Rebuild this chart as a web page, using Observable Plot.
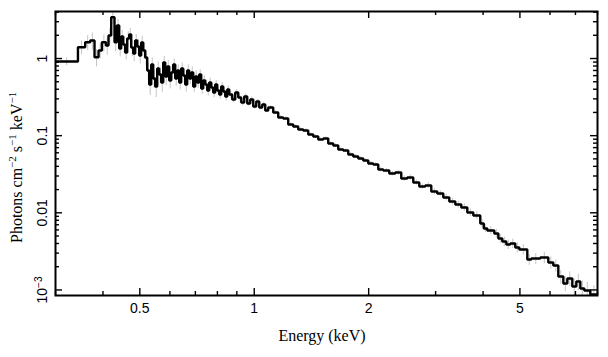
<!DOCTYPE html>
<html><head><meta charset="utf-8">
<script src="https://cdn.jsdelivr.net/npm/d3@7"></script>
<script src="https://cdn.jsdelivr.net/npm/@observablehq/plot@0.6"></script>
<style>
body{margin:0;background:#fff}
#chart{width:608px;height:357px}
</style>
</head><body><div id="chart"></div>
<script>
// Bin lower edges (keV)
const binLo = [
  0.3, 0.3437, 0.3591, 0.3702, 0.3800, 0.3894, 0.3974, 0.4071, 0.4136, 0.4204, 0.4289, 0.4352,
  0.4413, 0.4467, 0.4521, 0.4576, 0.4632, 0.4688, 0.4746, 0.4804, 0.4862, 0.4922, 0.4982, 0.5042, 0.5104, 0.5166,
  0.5229, 0.5293, 0.5358, 0.5423, 0.5489, 0.5556, 0.5623, 0.5692, 0.5761, 0.5832, 0.5903, 0.5975, 0.6047, 0.6121,
  0.6196, 0.6271, 0.6348, 0.6425, 0.6504, 0.6583, 0.6663, 0.6744, 0.6827, 0.6910, 0.6994, 0.7080, 0.7166, 0.7253,
  0.7342, 0.7431, 0.7522, 0.7613, 0.7706, 0.7800, 0.7895, 0.7991, 0.8089, 0.8187, 0.8288, 0.8389, 0.8491, 0.8594,
  0.8752, 0.8913, 0.9076, 0.9243, 0.9412, 0.9585, 0.9761, 0.9940, 1.0122, 1.0308, 1.0497, 1.0689, 1.0885,
  1.1220, 1.1565, 1.1920, 1.2287, 1.2664, 1.3054, 1.3455, 1.3869, 1.4297, 1.4736, 1.5191, 1.5656, 1.6140, 1.6636, 1.7146, 1.7675, 1.8219, 1.8780, 1.9357, 1.9953, 2.0568, 2.1199,
  2.1851, 2.2661, 2.3499, 2.4367, 2.5270, 2.6205, 2.7176, 2.8184, 2.9227, 3.0310, 3.1433, 3.2598, 3.3803, 3.5053, 3.6352, 3.7699,
  3.9326, 4.0170, 4.1040, 4.2816, 4.3880, 4.4934, 4.6050, 4.7170, 4.8616, 4.9820, 5.2290, 5.3570, 5.6570, 5.9386, 6.1205, 6.3096, 6.5046, 6.6636, 6.8673, 7.0370, 7.2093, 7.3860, 7.6590
];
const binHiLast = 8.0;
// Unfolded flux (photons cm^-2 s^-1 keV^-1)
const flux = [
  0.915, 1.401, 1.627, 1.712, 1.040, 1.270, 1.627, 1.474, 1.987, 3.43, 1.627, 2.677,
  1.348, 1.929, 1.519, 1.196, 1.817, 2.048, 1.389, 1.161, 1.712, 1.431, 1.094, 1.613, 1.270, 1.030,
  0.6988, 0.4600, 0.8360, 0.5503, 0.4333, 0.7418, 0.6201, 0.4883, 0.8874, 0.5842, 0.7875, 0.5184, 0.6583, 0.8360,
  0.5503, 0.6988, 0.4883, 0.7418, 0.6019, 0.4600, 0.6988, 0.5503, 0.6583, 0.4333, 0.5842, 0.4883, 0.6201, 0.4082,
  0.5184, 0.4600, 0.3845, 0.4883, 0.4206, 0.3622, 0.4600, 0.3845, 0.3412, 0.4333, 0.3732, 0.3215, 0.3962, 0.3412,
  0.2939, 0.3622, 0.3120, 0.2687, 0.3215, 0.2608, 0.2939, 0.2385, 0.2769, 0.2315, 0.2532, 0.2116, 0.2315,
  0.1995, 0.1719, 0.1668, 0.1395, 0.1314, 0.1201, 0.1166, 0.1035, 0.0975, 0.0891, 0.0918, 0.0791, 0.0745, 0.0661, 0.0642, 0.0570, 0.0537, 0.0505, 0.0476, 0.0436, 0.0423, 0.0364,
  0.03535, 0.03231, 0.03329, 0.02783, 0.02868, 0.02470, 0.02193, 0.02259, 0.01888, 0.01779, 0.01579, 0.01401, 0.01281, 0.01171, 0.01009, 0.00923,
  0.007265, 0.006258, 0.005898, 0.005393, 0.004644, 0.004246, 0.003882, 0.004000, 0.003550, 0.003344, 0.002481, 0.002556, 0.002634, 0.002269, 0.002074, 0.001494, 0.001212, 0.001407, 0.001108, 0.001287, 0.001044, 0.000984, 0.000873
];
// Fractional 1-sigma errors
const errFrac = [
  0.12, 0.2, 0.22, 0.25, 0.25, 0.22, 0.25, 0.25, 0.22, 0.2, 0.25, 0.2,
  0.22, 0.2, 0.24, 0.2, 0.22, 0.2, 0.24, 0.22, 0.2, 0.24, 0.22, 0.2, 0.24, 0.22,
  0.26, 0.28, 0.22, 0.26, 0.28, 0.22, 0.24, 0.26, 0.2, 0.24,
  0.2, 0.22, 0.2, 0.18, 0.2, 0.18, 0.2, 0.18, 0.18, 0.2, 0.18, 0.16, 0.18, 0.16, 0.18, 0.16,
  0.15, 0.16, 0.15, 0.14, 0.15, 0.14, 0.13, 0.14, 0.13, 0.12, 0.13, 0.12, 0.11, 0.12, 0.11, 0.1,
  0.1, 0.09, 0.09, 0.09, 0.08, 0.08, 0.08, 0.08, 0.07, 0.07, 0.07, 0.06, 0.06,
  0.06, 0.06, 0.05, 0.05, 0.05, 0.05, 0.05, 0.05, 0.05, 0.05, 0.05, 0.05, 0.05, 0.05, 0.05, 0.06, 0.06, 0.06, 0.06, 0.06, 0.06, 0.07,
  0.07, 0.07, 0.07, 0.08, 0.08, 0.08, 0.08, 0.09, 0.09, 0.09, 0.1, 0.1, 0.1, 0.11, 0.11, 0.12,
  0.12, 0.12, 0.12, 0.13, 0.13, 0.14, 0.14, 0.14, 0.15, 0.15, 0.16, 0.16, 0.17, 0.18, 0.18, 0.2, 0.22, 0.22, 0.24, 0.24, 0.26, 0.28, 0.3
];

const xDomain = [0.3, 8.0];
const yDomain = [8.47e-4, 4.07];
const xMajor = [0.5, 1, 2, 5];
const xMajorLabels = ["0.5", "1", "2", "5"];
const xMinor = [0.3, 0.4, 0.6, 0.7, 0.8, 0.9, 3, 4, 6, 7, 8];
const yMajor = [0.001, 0.01, 0.1, 1];
const yMajorLabels = ["10|-3", "0.01", "0.1", "1"];
const yMinor = [];
for (const dec of [0.001, 0.01, 0.1, 1]) for (let m = 2; m <= 9; m++) { const v = +(m * dec).toPrecision(3); if (v <= yDomain[1]) yMinor.push(v); }
const xTitle = "Energy (keV)";

// Build step points and error bars from the arrays
const steps = binLo.map((e, i) => ({e, f: flux[i]}));
steps.push({e: binHiLast, f: flux[flux.length - 1]});
const bars = binLo.map((e, i) => {
  const hi = i + 1 < binLo.length ? binLo[i + 1] : binHiLast;
  return {e: Math.sqrt(e * hi), lo: flux[i] * (1 - errFrac[i]), hi: flux[i] * (1 + errFrac[i])};
});

const W = 608, H = 357, mL = 55, mR = 11, mT = 11, mB = 62;
const innerW = W - mL - mR, innerH = H - mT - mB;
const majLen = 7, minLen = 4, tickStroke = 1.4;

const plot = Plot.plot({
  width: W, height: H,
  marginLeft: mL, marginRight: mR, marginTop: mT, marginBottom: mB,
  style: {fontFamily: "'Liberation Sans', Arial, Helvetica, sans-serif", fontSize: "14px", background: "#fff", color: "#000"},
  x: {type: "log", domain: xDomain, axis: null},
  y: {type: "log", domain: yDomain, axis: null},
  marks: [
    Plot.ruleX(bars, {x: "e", y1: "lo", y2: "hi", stroke: "#c4c4c4", strokeWidth: 1, clip: true}),
    Plot.line(steps, {x: "e", y: "f", curve: "step-after", stroke: "#000", strokeWidth: 2.4, strokeLinejoin: "miter", clip: true}),
    // inward tick marks on all four sides
    Plot.tickX(xMajor, {x: d => d, insetTop: innerH - majLen, stroke: "#000", strokeWidth: tickStroke}),
    Plot.tickX(xMinor, {x: d => d, insetTop: innerH - minLen, stroke: "#000", strokeWidth: tickStroke}),
    Plot.tickX(xMajor, {x: d => d, insetBottom: innerH - majLen, stroke: "#000", strokeWidth: tickStroke}),
    Plot.tickX(xMinor, {x: d => d, insetBottom: innerH - minLen, stroke: "#000", strokeWidth: tickStroke}),
    Plot.tickY(yMajor, {y: d => d, insetRight: innerW - majLen, stroke: "#000", strokeWidth: tickStroke}),
    Plot.tickY(yMinor, {y: d => d, insetRight: innerW - minLen, stroke: "#000", strokeWidth: tickStroke}),
    Plot.tickY(yMajor, {y: d => d, insetLeft: innerW - majLen, stroke: "#000", strokeWidth: tickStroke}),
    Plot.tickY(yMinor, {y: d => d, insetLeft: innerW - minLen, stroke: "#000", strokeWidth: tickStroke}),
    // tick labels
    Plot.text(xMajor, {x: d => d, text: (d, i) => xMajorLabels[i], frameAnchor: "bottom", lineAnchor: "top", dy: 8, fill: "#000", fontSize: 14}),
    Plot.axisY(yMajor, {anchor: "left", tickSize: 0, tickPadding: 9, tickRotate: -90, tickFormat: d => yMajorLabels[yMajor.indexOf(d)], label: null}),
    Plot.frame({stroke: "#000", strokeWidth: 2})
  ]
});
document.getElementById("chart").appendChild(plot);

const svg = d3.select(plot);
// superscript exponents in tick labels
svg.selectAll("text").each(function () {
  const t = d3.select(this);
  const s = t.text();
  if (s.includes("|")) {
    const [base, exp] = s.split("|");
    t.text(base);
    t.append("tspan").attr("dy", "-0.45em").attr("font-size", "0.72em").text(exp.replace("-", "\u2212"));
  }
});

const xr = plot.scale("x").range, yr = plot.scale("y").range;
const serif = "'Liberation Serif', 'Times New Roman', Times, serif";
svg.append("text")
  .attr("x", (xr[0] + xr[1]) / 2 - 4).attr("y", yr[0] + 46)
  .attr("text-anchor", "middle")
  .style("font-family", serif).style("font-size", "16px").attr("fill", "#000")
  .text(xTitle);

const yt = svg.append("text")
  .attr("transform", `translate(22,${yr[0] - 52}) rotate(-90)`)
  .attr("text-anchor", "start")
  .style("font-family", serif).style("font-size", "16px").attr("fill", "#000");
const parts = [["Photons cm", null], ["\u22122", "sup"], [" s", null], ["\u22121", "sup"], [" keV", null], ["\u22121", "sup"]];
let raised = false;
for (const [txt, kind] of parts) {
  const sp = yt.append("tspan").text(txt);
  if (kind === "sup") { sp.attr("font-size", "11px").attr("dy", raised ? "0" : "-6"); raised = true; }
  else if (raised) { sp.attr("dy", "6"); raised = false; }
}
</script>
</body></html>
